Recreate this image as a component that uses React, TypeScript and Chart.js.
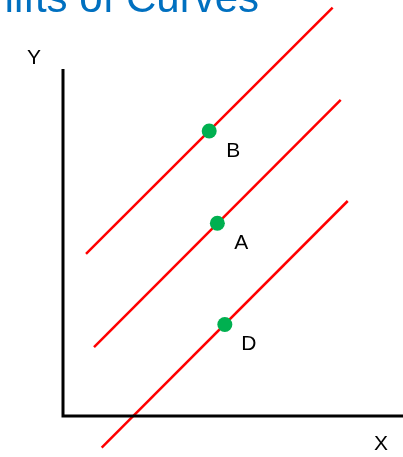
import React, { useEffect, useRef } from "react";
import { Chart, registerables } from "chart.js";

Chart.register(...registerables);

const titleText = "Shifts of Curves";
const curveNames = ["Upper curve", "Middle curve", "Lower curve"];
const curveStartX = [0.676, 0.912, 1.138];
const curveStartY = [4.669, 1.988, -0.914];
const curveEndX = [7.93, 8.168, 8.374];
const curveEndY = [11.77, 9.107, 6.196];
const pointLabels = ["B", "A", "D"];
const pointX = [4.3, 4.54, 4.76];
const pointY = [8.213, 5.553, 2.637];
const axisXLabel = "X";
const axisYLabel = "Y";

const FONT = '"Liberation Sans", Arial, sans-serif';

const textPlugin = {
  id: "textPlugin",
  afterDatasetsDraw(chart: any) {
    const ctx = chart.ctx;
    const area = chart.chartArea;
    ctx.save();
    ctx.fillStyle = "#000";
    ctx.font = `21px ${FONT}`;
    ctx.textAlign = "center";
    ctx.textBaseline = "middle";
    const meta = chart.getDatasetMeta(0);
    meta.data.forEach((el: any, i: number) => {
      ctx.fillText(pointLabels[i], el.x + 24, el.y + 20);
    });
    ctx.fillText(axisYLabel, area.left - 29, area.top - 11);
    ctx.fillText(axisXLabel, area.right - 22, area.bottom + 28);
    ctx.fillStyle = "#0070C0";
    ctx.font = `42px ${FONT}`;
    ctx.textAlign = "right";
    ctx.textBaseline = "alphabetic";
    ctx.fillText(titleText, area.left + 196, 12);
    ctx.restore();
  },
};

export default function App() {
  const ref = useRef<HTMLCanvasElement | null>(null);
  useEffect(() => {
    if (!ref.current) return;
    const curveSets = curveNames.map((name, i) => ({
      label: name,
      data: [
        { x: curveStartX[i], y: curveStartY[i] },
        { x: curveEndX[i], y: curveEndY[i] },
      ],
      showLine: true,
      borderColor: "#FF0000",
      borderWidth: 2.5,
      pointRadius: 0,
      clip: false as any,
      order: 2,
    }));
    const chart = new Chart(ref.current, {
      type: "scatter",
      data: {
        datasets: [
          {
            label: "Points",
            data: pointX.map((x, i) => ({ x, y: pointY[i] })),
            backgroundColor: "#00B050",
            borderWidth: 0,
            pointRadius: 7.5,
            clip: false as any,
            order: 0,
          },
          {
            label: "Axes",
            data: [
              { x: 0, y: 10 },
              { x: 0, y: 0 },
              { x: 10, y: 0 },
            ],
            showLine: true,
            borderColor: "#000",
            borderWidth: 3,
            pointRadius: 0,
            clip: false as any,
            order: 1,
          },
          ...curveSets,
        ],
      },
      options: {
        animation: false,
        responsive: false,
        maintainAspectRatio: false,
        layout: { autoPadding: false, padding: { left: 63, top: 69, right: 0, bottom: 41 } },
        scales: {
          x: { type: "linear", min: 0, max: 10, display: false },
          y: { type: "linear", min: 0, max: 10, display: false },
        },
        plugins: {
          legend: { display: false },
          tooltip: { enabled: false },
          title: { display: false },
        },
      },
      plugins: [textPlugin],
    });
    return () => chart.destroy();
  }, []);
  return (
    <div style={{ position: "absolute", left: 0, top: 0, width: 403, height: 457, background: "#fff" }}>
      <canvas ref={ref} width={403} height={457} />
    </div>
  );
}
